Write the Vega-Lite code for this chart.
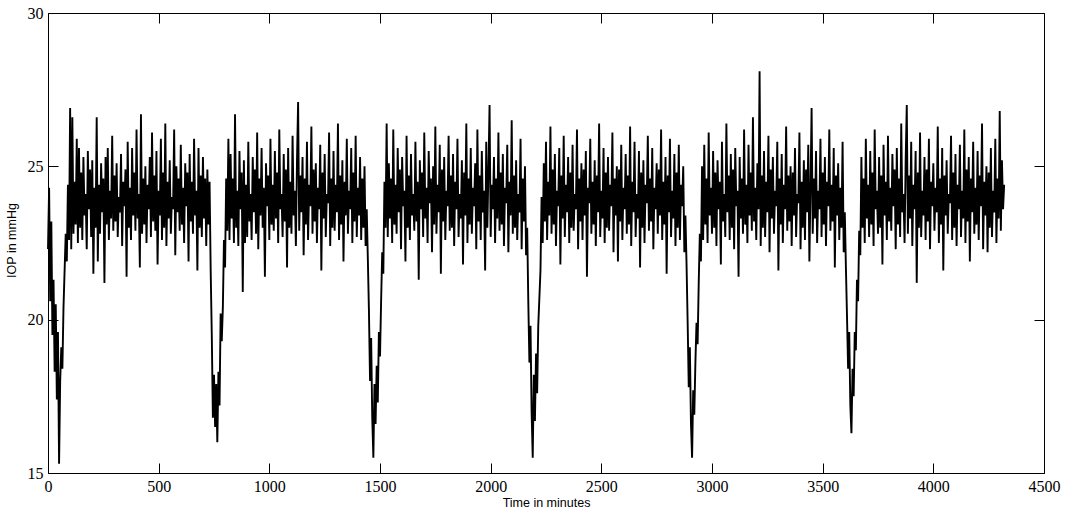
{
"$schema":"https://vega.github.io/schema/vega-lite/v6.json",
"width":996,"height":460,"autosize":"none",
"padding":{"left":48,"top":13,"right":21,"bottom":44},
"background":"white",
"data":{"values":[
{"t":0,"v":22.3},{"t":5,"v":24.3},{"t":10,"v":20.6},{"t":15,"v":23.2},{"t":20,"v":19.5},{"t":25,"v":21.3},{"t":30,"v":18.3},{"t":35,"v":20.5},{"t":40,"v":17.4},{"t":45,"v":19.6},
{"t":50,"v":15.3},{"t":55,"v":18.0},{"t":60,"v":19.1},{"t":65,"v":18.4},{"t":70,"v":20.4},{"t":75,"v":21.6},{"t":80,"v":22.8},{"t":85,"v":21.9},{"t":90,"v":24.4},{"t":95,"v":22.6},
{"t":100,"v":26.9},{"t":105,"v":22.3},{"t":110,"v":26.6},{"t":115,"v":22.8},{"t":120,"v":24.5},{"t":125,"v":23.1},{"t":130,"v":25.9},{"t":135,"v":22.5},{"t":140,"v":25.6},{"t":145,"v":23.0},
{"t":150,"v":24.8},{"t":155,"v":22.6},{"t":160,"v":25.3},{"t":165,"v":23.4},{"t":170,"v":24.1},{"t":175,"v":22.3},{"t":180,"v":25.5},{"t":185,"v":23.6},{"t":190,"v":24.9},{"t":195,"v":22.7},
{"t":200,"v":25.2},{"t":205,"v":21.5},{"t":210,"v":24.3},{"t":215,"v":23.0},{"t":220,"v":26.6},{"t":225,"v":21.9},{"t":230,"v":24.4},{"t":235,"v":22.8},{"t":240,"v":25.1},{"t":245,"v":23.5},
{"t":250,"v":24.6},{"t":255,"v":21.2},{"t":260,"v":25.3},{"t":265,"v":23.1},{"t":270,"v":25.6},{"t":275,"v":22.6},{"t":280,"v":24.2},{"t":285,"v":23.3},{"t":290,"v":26.0},{"t":295,"v":22.9},
{"t":300,"v":24.7},{"t":305,"v":23.2},{"t":310,"v":25.1},{"t":315,"v":22.7},{"t":320,"v":24.0},{"t":325,"v":23.5},{"t":330,"v":25.4},{"t":335,"v":22.4},{"t":340,"v":24.5},{"t":345,"v":23.7},
{"t":350,"v":24.9},{"t":355,"v":21.4},{"t":360,"v":25.8},{"t":365,"v":23.0},{"t":370,"v":24.3},{"t":375,"v":22.6},{"t":380,"v":25.6},{"t":385,"v":23.4},{"t":390,"v":24.8},{"t":395,"v":22.9},
{"t":400,"v":26.2},{"t":405,"v":23.3},{"t":410,"v":24.1},{"t":415,"v":21.7},{"t":420,"v":26.7},{"t":425,"v":22.8},{"t":430,"v":24.6},{"t":435,"v":23.1},{"t":440,"v":25.0},{"t":445,"v":22.5},
{"t":450,"v":24.4},{"t":455,"v":23.6},{"t":460,"v":25.3},{"t":465,"v":22.7},{"t":470,"v":26.1},{"t":475,"v":23.2},{"t":480,"v":24.7},{"t":485,"v":22.9},{"t":490,"v":25.5},{"t":495,"v":21.8},
{"t":500,"v":24.2},{"t":505,"v":23.4},{"t":510,"v":25.9},{"t":515,"v":22.6},{"t":520,"v":24.8},{"t":525,"v":23.0},{"t":530,"v":26.4},{"t":535,"v":22.4},{"t":540,"v":24.5},{"t":545,"v":23.3},
{"t":550,"v":25.2},{"t":555,"v":22.8},{"t":560,"v":24.0},{"t":565,"v":23.6},{"t":570,"v":26.2},{"t":575,"v":22.1},{"t":580,"v":25.0},{"t":585,"v":23.5},{"t":590,"v":24.6},{"t":595,"v":22.9},
{"t":600,"v":25.7},{"t":605,"v":23.1},{"t":610,"v":24.3},{"t":615,"v":22.5},{"t":620,"v":25.1},{"t":625,"v":23.7},{"t":630,"v":24.8},{"t":635,"v":21.9},{"t":640,"v":25.4},{"t":645,"v":23.2},
{"t":650,"v":24.5},{"t":655,"v":22.8},{"t":660,"v":25.9},{"t":665,"v":23.4},{"t":670,"v":24.2},{"t":675,"v":21.6},{"t":680,"v":25.6},{"t":685,"v":23.0},{"t":690,"v":24.7},{"t":695,"v":22.7},
{"t":700,"v":25.3},{"t":705,"v":23.3},{"t":710,"v":24.6},{"t":715,"v":22.4},{"t":720,"v":24.9},{"t":725,"v":23.1},{"t":730,"v":24.5},{"t":735,"v":21.6},{"t":740,"v":19.5},{"t":745,"v":16.8},
{"t":750,"v":18.2},{"t":755,"v":16.5},{"t":760,"v":17.9},{"t":765,"v":16.0},{"t":770,"v":18.3},{"t":775,"v":17.2},{"t":780,"v":20.2},{"t":785,"v":19.3},{"t":790,"v":20.4},{"t":795,"v":22.6},
{"t":800,"v":21.7},{"t":805,"v":24.6},{"t":810,"v":22.9},{"t":815,"v":25.9},{"t":820,"v":22.6},{"t":825,"v":25.4},{"t":830,"v":23.3},{"t":835,"v":24.6},{"t":840,"v":22.5},{"t":845,"v":26.7},
{"t":850,"v":23.0},{"t":855,"v":24.2},{"t":860,"v":22.4},{"t":865,"v":25.5},{"t":870,"v":23.6},{"t":875,"v":24.8},{"t":880,"v":20.9},{"t":885,"v":25.2},{"t":890,"v":22.5},{"t":895,"v":24.4},
{"t":900,"v":22.7},{"t":905,"v":25.8},{"t":910,"v":23.2},{"t":915,"v":24.1},{"t":920,"v":22.6},{"t":925,"v":25.3},{"t":930,"v":23.5},{"t":935,"v":24.9},{"t":940,"v":22.8},{"t":945,"v":26.1},
{"t":950,"v":22.3},{"t":955,"v":24.6},{"t":960,"v":23.4},{"t":965,"v":25.6},{"t":970,"v":23.0},{"t":975,"v":24.3},{"t":980,"v":21.4},{"t":985,"v":25.1},{"t":990,"v":23.7},{"t":995,"v":24.7},
{"t":1000,"v":22.6},{"t":1005,"v":25.9},{"t":1010,"v":23.1},{"t":1015,"v":24.4},{"t":1020,"v":22.9},{"t":1025,"v":25.5},{"t":1030,"v":23.3},{"t":1035,"v":24.8},{"t":1040,"v":22.5},{"t":1045,"v":26.2},
{"t":1050,"v":23.6},{"t":1055,"v":24.1},{"t":1060,"v":22.7},{"t":1065,"v":25.4},{"t":1070,"v":23.2},{"t":1075,"v":24.9},{"t":1080,"v":21.7},{"t":1085,"v":25.6},{"t":1090,"v":23.0},{"t":1095,"v":24.5},
{"t":1100,"v":22.8},{"t":1105,"v":26.0},{"t":1110,"v":23.4},{"t":1115,"v":24.2},{"t":1120,"v":22.4},{"t":1125,"v":25.2},{"t":1130,"v":27.1},{"t":1135,"v":22.9},{"t":1140,"v":24.7},{"t":1145,"v":23.5},
{"t":1150,"v":25.3},{"t":1155,"v":22.1},{"t":1160,"v":24.6},{"t":1165,"v":23.1},{"t":1170,"v":25.8},{"t":1175,"v":22.6},{"t":1180,"v":24.4},{"t":1185,"v":23.7},{"t":1190,"v":26.3},{"t":1195,"v":22.8},
{"t":1200,"v":24.9},{"t":1205,"v":23.2},{"t":1210,"v":25.1},{"t":1215,"v":22.5},{"t":1220,"v":24.3},{"t":1225,"v":23.6},{"t":1230,"v":25.7},{"t":1235,"v":21.6},{"t":1240,"v":24.8},{"t":1245,"v":23.3},
{"t":1250,"v":25.4},{"t":1255,"v":22.7},{"t":1260,"v":24.1},{"t":1265,"v":23.8},{"t":1270,"v":26.1},{"t":1275,"v":22.4},{"t":1280,"v":24.6},{"t":1285,"v":23.0},{"t":1290,"v":25.5},{"t":1295,"v":22.9},
{"t":1300,"v":24.4},{"t":1305,"v":23.5},{"t":1310,"v":26.4},{"t":1315,"v":22.6},{"t":1320,"v":24.7},{"t":1325,"v":23.1},{"t":1330,"v":25.2},{"t":1335,"v":21.9},{"t":1340,"v":24.5},{"t":1345,"v":23.4},
{"t":1350,"v":25.9},{"t":1355,"v":22.8},{"t":1360,"v":24.2},{"t":1365,"v":23.6},{"t":1370,"v":25.6},{"t":1375,"v":22.5},{"t":1380,"v":24.8},{"t":1385,"v":23.2},{"t":1390,"v":26.0},{"t":1395,"v":22.7},
{"t":1400,"v":24.3},{"t":1405,"v":23.4},{"t":1410,"v":25.3},{"t":1415,"v":22.6},{"t":1420,"v":24.6},{"t":1425,"v":23.0},{"t":1430,"v":25.0},{"t":1435,"v":22.4},{"t":1440,"v":23.6},{"t":1445,"v":22.0},
{"t":1450,"v":20.3},{"t":1455,"v":18.0},{"t":1460,"v":19.4},{"t":1465,"v":16.8},{"t":1470,"v":15.5},{"t":1475,"v":17.9},{"t":1480,"v":16.6},{"t":1485,"v":18.5},{"t":1490,"v":17.3},{"t":1495,"v":19.6},
{"t":1500,"v":18.8},{"t":1505,"v":20.6},{"t":1510,"v":22.2},{"t":1515,"v":21.5},{"t":1520,"v":24.5},{"t":1525,"v":23.0},{"t":1530,"v":26.4},{"t":1535,"v":22.7},{"t":1540,"v":25.1},{"t":1545,"v":23.3},
{"t":1550,"v":24.6},{"t":1555,"v":22.5},{"t":1560,"v":26.2},{"t":1565,"v":23.1},{"t":1570,"v":24.4},{"t":1575,"v":22.8},{"t":1580,"v":25.6},{"t":1585,"v":23.5},{"t":1590,"v":24.9},{"t":1595,"v":22.3},
{"t":1600,"v":25.3},{"t":1605,"v":23.7},{"t":1610,"v":24.2},{"t":1615,"v":21.9},{"t":1620,"v":26.0},{"t":1625,"v":23.0},{"t":1630,"v":24.7},{"t":1635,"v":22.6},{"t":1640,"v":25.4},{"t":1645,"v":23.4},
{"t":1650,"v":24.1},{"t":1655,"v":22.9},{"t":1660,"v":25.8},{"t":1665,"v":23.2},{"t":1670,"v":24.5},{"t":1675,"v":21.3},{"t":1680,"v":25.2},{"t":1685,"v":23.6},{"t":1690,"v":24.8},{"t":1695,"v":22.7},
{"t":1700,"v":26.1},{"t":1705,"v":23.3},{"t":1710,"v":24.3},{"t":1715,"v":22.5},{"t":1720,"v":25.5},{"t":1725,"v":23.8},{"t":1730,"v":24.6},{"t":1735,"v":22.2},{"t":1740,"v":25.0},{"t":1745,"v":23.1},
{"t":1750,"v":26.3},{"t":1755,"v":22.8},{"t":1760,"v":24.4},{"t":1765,"v":23.5},{"t":1770,"v":25.7},{"t":1775,"v":21.5},{"t":1780,"v":24.9},{"t":1785,"v":23.2},{"t":1790,"v":25.3},{"t":1795,"v":22.6},
{"t":1800,"v":24.2},{"t":1805,"v":23.7},{"t":1810,"v":26.0},{"t":1815,"v":22.9},{"t":1820,"v":24.7},{"t":1825,"v":23.0},{"t":1830,"v":25.4},{"t":1835,"v":22.4},{"t":1840,"v":24.5},{"t":1845,"v":23.6},
{"t":1850,"v":25.9},{"t":1855,"v":22.7},{"t":1860,"v":24.1},{"t":1865,"v":23.3},{"t":1870,"v":25.2},{"t":1875,"v":21.8},{"t":1880,"v":24.8},{"t":1885,"v":23.4},{"t":1890,"v":26.4},{"t":1895,"v":22.5},
{"t":1900,"v":24.6},{"t":1905,"v":23.1},{"t":1910,"v":25.6},{"t":1915,"v":22.8},{"t":1920,"v":24.3},{"t":1925,"v":23.7},{"t":1930,"v":25.1},{"t":1935,"v":22.3},{"t":1940,"v":26.2},{"t":1945,"v":23.2},
{"t":1950,"v":24.7},{"t":1955,"v":22.6},{"t":1960,"v":25.5},{"t":1965,"v":23.5},{"t":1970,"v":24.2},{"t":1975,"v":21.6},{"t":1980,"v":25.8},{"t":1985,"v":23.0},{"t":1990,"v":24.9},{"t":1995,"v":27.0},
{"t":2000,"v":22.7},{"t":2005,"v":24.4},{"t":2010,"v":23.6},{"t":2015,"v":25.3},{"t":2020,"v":22.5},{"t":2025,"v":24.6},{"t":2030,"v":23.3},{"t":2035,"v":26.1},{"t":2040,"v":22.9},{"t":2045,"v":24.8},
{"t":2050,"v":23.1},{"t":2055,"v":25.4},{"t":2060,"v":22.4},{"t":2065,"v":24.3},{"t":2070,"v":23.8},{"t":2075,"v":25.7},{"t":2080,"v":22.2},{"t":2085,"v":24.5},{"t":2090,"v":23.4},{"t":2095,"v":26.5},
{"t":2100,"v":22.8},{"t":2105,"v":24.7},{"t":2110,"v":23.0},{"t":2115,"v":25.2},{"t":2120,"v":22.6},{"t":2125,"v":24.1},{"t":2130,"v":23.5},{"t":2135,"v":25.9},{"t":2140,"v":22.3},{"t":2145,"v":24.6},
{"t":2150,"v":23.2},{"t":2155,"v":25.0},{"t":2160,"v":22.1},{"t":2165,"v":23.0},{"t":2170,"v":20.6},{"t":2175,"v":18.6},{"t":2180,"v":19.8},{"t":2185,"v":17.0},{"t":2190,"v":15.5},{"t":2195,"v":18.2},
{"t":2200,"v":16.7},{"t":2205,"v":18.9},{"t":2210,"v":17.6},{"t":2215,"v":19.8},{"t":2220,"v":20.7},{"t":2225,"v":21.6},{"t":2230,"v":24.0},{"t":2235,"v":22.5},{"t":2240,"v":25.1},{"t":2245,"v":23.2},
{"t":2250,"v":25.8},{"t":2255,"v":22.6},{"t":2260,"v":24.5},{"t":2265,"v":23.4},{"t":2270,"v":26.3},{"t":2275,"v":22.8},{"t":2280,"v":24.9},{"t":2285,"v":23.1},{"t":2290,"v":25.4},{"t":2295,"v":22.4},
{"t":2300,"v":24.2},{"t":2305,"v":23.7},{"t":2310,"v":25.6},{"t":2315,"v":21.8},{"t":2320,"v":24.7},{"t":2325,"v":23.3},{"t":2330,"v":26.0},{"t":2335,"v":22.7},{"t":2340,"v":24.4},{"t":2345,"v":23.5},
{"t":2350,"v":25.3},{"t":2355,"v":22.5},{"t":2360,"v":24.8},{"t":2365,"v":23.0},{"t":2370,"v":25.7},{"t":2375,"v":22.9},{"t":2380,"v":24.1},{"t":2385,"v":23.6},{"t":2390,"v":26.2},{"t":2395,"v":22.3},
{"t":2400,"v":24.6},{"t":2405,"v":23.2},{"t":2410,"v":25.1},{"t":2415,"v":22.6},{"t":2420,"v":24.9},{"t":2425,"v":23.4},{"t":2430,"v":25.5},{"t":2435,"v":21.4},{"t":2440,"v":24.3},{"t":2445,"v":23.8},
{"t":2450,"v":25.9},{"t":2455,"v":22.8},{"t":2460,"v":24.5},{"t":2465,"v":23.1},{"t":2470,"v":25.2},{"t":2475,"v":22.4},{"t":2480,"v":24.7},{"t":2485,"v":23.5},{"t":2490,"v":26.4},{"t":2495,"v":22.7},
{"t":2500,"v":24.2},{"t":2505,"v":23.3},{"t":2510,"v":25.6},{"t":2515,"v":22.5},{"t":2520,"v":24.8},{"t":2525,"v":23.0},{"t":2530,"v":25.3},{"t":2535,"v":22.9},{"t":2540,"v":24.4},{"t":2545,"v":23.7},
{"t":2550,"v":26.1},{"t":2555,"v":22.2},{"t":2560,"v":24.6},{"t":2565,"v":23.4},{"t":2570,"v":25.0},{"t":2575,"v":21.9},{"t":2580,"v":24.9},{"t":2585,"v":23.2},{"t":2590,"v":25.7},{"t":2595,"v":22.6},
{"t":2600,"v":24.3},{"t":2605,"v":23.6},{"t":2610,"v":25.4},{"t":2615,"v":22.8},{"t":2620,"v":24.7},{"t":2625,"v":23.1},{"t":2630,"v":26.3},{"t":2635,"v":22.4},{"t":2640,"v":24.5},{"t":2645,"v":23.5},
{"t":2650,"v":25.8},{"t":2655,"v":22.7},{"t":2660,"v":24.1},{"t":2665,"v":23.3},{"t":2670,"v":25.5},{"t":2675,"v":21.7},{"t":2680,"v":24.8},{"t":2685,"v":23.0},{"t":2690,"v":25.2},{"t":2695,"v":22.5},
{"t":2700,"v":24.4},{"t":2705,"v":23.8},{"t":2710,"v":26.0},{"t":2715,"v":22.9},{"t":2720,"v":24.6},{"t":2725,"v":23.2},{"t":2730,"v":25.6},{"t":2735,"v":22.3},{"t":2740,"v":24.3},{"t":2745,"v":23.6},
{"t":2750,"v":25.1},{"t":2755,"v":22.8},{"t":2760,"v":24.9},{"t":2765,"v":23.4},{"t":2770,"v":26.2},{"t":2775,"v":22.6},{"t":2780,"v":24.5},{"t":2785,"v":23.1},{"t":2790,"v":25.3},{"t":2795,"v":21.5},
{"t":2800,"v":24.7},{"t":2805,"v":23.5},{"t":2810,"v":25.9},{"t":2815,"v":22.7},{"t":2820,"v":24.2},{"t":2825,"v":23.3},{"t":2830,"v":25.4},{"t":2835,"v":22.4},{"t":2840,"v":24.8},{"t":2845,"v":23.0},
{"t":2850,"v":25.7},{"t":2855,"v":22.6},{"t":2860,"v":24.4},{"t":2865,"v":23.7},{"t":2870,"v":25.0},{"t":2875,"v":22.2},{"t":2880,"v":23.4},{"t":2885,"v":21.8},{"t":2890,"v":19.9},{"t":2895,"v":17.8},
{"t":2900,"v":19.1},{"t":2905,"v":16.6},{"t":2910,"v":15.5},{"t":2915,"v":17.7},{"t":2920,"v":16.9},{"t":2925,"v":18.6},{"t":2930,"v":19.9},{"t":2935,"v":19.2},{"t":2940,"v":21.2},{"t":2945,"v":22.8},
{"t":2950,"v":21.9},{"t":2955,"v":25.0},{"t":2960,"v":22.6},{"t":2965,"v":25.7},{"t":2970,"v":23.1},{"t":2975,"v":24.6},{"t":2980,"v":22.5},{"t":2985,"v":26.1},{"t":2990,"v":23.4},{"t":2995,"v":24.3},
{"t":3000,"v":22.8},{"t":3005,"v":25.5},{"t":3010,"v":23.0},{"t":3015,"v":24.8},{"t":3020,"v":22.4},{"t":3025,"v":25.2},{"t":3030,"v":23.6},{"t":3035,"v":24.5},{"t":3040,"v":21.8},{"t":3045,"v":25.8},
{"t":3050,"v":23.2},{"t":3055,"v":24.1},{"t":3060,"v":22.7},{"t":3065,"v":26.4},{"t":3070,"v":23.5},{"t":3075,"v":24.7},{"t":3080,"v":22.6},{"t":3085,"v":25.4},{"t":3090,"v":23.0},{"t":3095,"v":24.9},
{"t":3100,"v":22.3},{"t":3105,"v":25.6},{"t":3110,"v":23.7},{"t":3115,"v":24.2},{"t":3120,"v":21.4},{"t":3125,"v":25.3},{"t":3130,"v":23.3},{"t":3135,"v":24.6},{"t":3140,"v":22.8},{"t":3145,"v":26.2},
{"t":3150,"v":23.1},{"t":3155,"v":24.4},{"t":3160,"v":22.5},{"t":3165,"v":25.7},{"t":3170,"v":23.4},{"t":3175,"v":24.8},{"t":3180,"v":22.9},{"t":3185,"v":26.6},{"t":3190,"v":23.2},{"t":3195,"v":24.3},
{"t":3200,"v":22.6},{"t":3205,"v":25.1},{"t":3210,"v":23.6},{"t":3215,"v":28.1},{"t":3220,"v":22.4},{"t":3225,"v":24.7},{"t":3230,"v":23.0},{"t":3235,"v":25.5},{"t":3240,"v":22.7},{"t":3245,"v":24.5},
{"t":3250,"v":23.5},{"t":3255,"v":26.0},{"t":3260,"v":22.2},{"t":3265,"v":24.9},{"t":3270,"v":23.3},{"t":3275,"v":25.3},{"t":3280,"v":22.8},{"t":3285,"v":24.2},{"t":3290,"v":23.7},{"t":3295,"v":25.8},
{"t":3300,"v":21.6},{"t":3305,"v":24.6},{"t":3310,"v":23.1},{"t":3315,"v":25.4},{"t":3320,"v":22.5},{"t":3325,"v":24.4},{"t":3330,"v":23.6},{"t":3335,"v":26.3},{"t":3340,"v":22.9},{"t":3345,"v":24.7},
{"t":3350,"v":23.2},{"t":3355,"v":25.0},{"t":3360,"v":22.4},{"t":3365,"v":24.8},{"t":3370,"v":23.4},{"t":3375,"v":25.6},{"t":3380,"v":22.7},{"t":3385,"v":24.1},{"t":3390,"v":23.8},{"t":3395,"v":26.1},
{"t":3400,"v":22.3},{"t":3405,"v":24.5},{"t":3410,"v":23.0},{"t":3415,"v":25.2},{"t":3420,"v":22.6},{"t":3425,"v":24.9},{"t":3430,"v":23.5},{"t":3435,"v":25.7},{"t":3440,"v":21.9},{"t":3445,"v":24.3},
{"t":3450,"v":26.9},{"t":3455,"v":22.8},{"t":3460,"v":24.6},{"t":3465,"v":23.3},{"t":3470,"v":25.5},{"t":3475,"v":22.5},{"t":3480,"v":24.2},{"t":3485,"v":23.6},{"t":3490,"v":25.9},{"t":3495,"v":22.7},
{"t":3500,"v":24.8},{"t":3505,"v":23.1},{"t":3510,"v":25.3},{"t":3515,"v":22.4},{"t":3520,"v":24.5},{"t":3525,"v":23.7},{"t":3530,"v":26.2},{"t":3535,"v":22.9},{"t":3540,"v":24.4},{"t":3545,"v":23.2},
{"t":3550,"v":25.6},{"t":3555,"v":21.7},{"t":3560,"v":24.7},{"t":3565,"v":23.4},{"t":3570,"v":25.1},{"t":3575,"v":22.6},{"t":3580,"v":24.3},{"t":3585,"v":23.0},{"t":3590,"v":25.8},{"t":3595,"v":22.2},
{"t":3600,"v":23.5},{"t":3605,"v":21.7},{"t":3610,"v":20.1},{"t":3615,"v":18.4},{"t":3620,"v":19.6},{"t":3625,"v":17.2},{"t":3630,"v":16.3},{"t":3635,"v":18.4},{"t":3640,"v":17.5},{"t":3645,"v":19.6},
{"t":3650,"v":19.0},{"t":3655,"v":21.3},{"t":3660,"v":20.6},{"t":3665,"v":22.9},{"t":3670,"v":22.1},{"t":3675,"v":25.3},{"t":3680,"v":23.0},{"t":3685,"v":24.6},{"t":3690,"v":22.5},{"t":3695,"v":25.9},
{"t":3700,"v":23.3},{"t":3705,"v":24.4},{"t":3710,"v":22.7},{"t":3715,"v":25.5},{"t":3720,"v":23.1},{"t":3725,"v":24.8},{"t":3730,"v":22.4},{"t":3735,"v":26.2},{"t":3740,"v":23.6},{"t":3745,"v":24.2},
{"t":3750,"v":22.8},{"t":3755,"v":25.3},{"t":3760,"v":23.0},{"t":3765,"v":24.7},{"t":3770,"v":21.8},{"t":3775,"v":25.7},{"t":3780,"v":23.4},{"t":3785,"v":24.5},{"t":3790,"v":22.6},{"t":3795,"v":26.0},
{"t":3800,"v":23.2},{"t":3805,"v":24.3},{"t":3810,"v":22.9},{"t":3815,"v":25.4},{"t":3820,"v":23.7},{"t":3825,"v":24.9},{"t":3830,"v":22.3},{"t":3835,"v":25.6},{"t":3840,"v":23.1},{"t":3845,"v":24.6},
{"t":3850,"v":22.7},{"t":3855,"v":26.4},{"t":3860,"v":23.5},{"t":3865,"v":24.1},{"t":3870,"v":22.5},{"t":3875,"v":25.2},{"t":3880,"v":27.0},{"t":3885,"v":22.8},{"t":3890,"v":24.7},{"t":3895,"v":23.3},
{"t":3900,"v":25.8},{"t":3905,"v":22.4},{"t":3910,"v":24.4},{"t":3915,"v":23.6},{"t":3920,"v":25.5},{"t":3925,"v":21.2},{"t":3930,"v":24.8},{"t":3935,"v":23.0},{"t":3940,"v":26.1},{"t":3945,"v":22.7},
{"t":3950,"v":24.2},{"t":3955,"v":23.4},{"t":3960,"v":25.3},{"t":3965,"v":22.6},{"t":3970,"v":24.9},{"t":3975,"v":23.2},{"t":3980,"v":25.9},{"t":3985,"v":22.3},{"t":3990,"v":24.5},{"t":3995,"v":23.7},
{"t":4000,"v":25.1},{"t":4005,"v":22.9},{"t":4010,"v":24.3},{"t":4015,"v":23.5},{"t":4020,"v":26.3},{"t":4025,"v":22.5},{"t":4030,"v":24.6},{"t":4035,"v":23.1},{"t":4040,"v":25.6},{"t":4045,"v":21.6},
{"t":4050,"v":24.7},{"t":4055,"v":23.4},{"t":4060,"v":25.2},{"t":4065,"v":22.8},{"t":4070,"v":24.1},{"t":4075,"v":23.8},{"t":4080,"v":26.0},{"t":4085,"v":22.6},{"t":4090,"v":24.8},{"t":4095,"v":23.0},
{"t":4100,"v":25.4},{"t":4105,"v":22.4},{"t":4110,"v":24.4},{"t":4115,"v":23.6},{"t":4120,"v":25.7},{"t":4125,"v":22.7},{"t":4130,"v":24.2},{"t":4135,"v":23.3},{"t":4140,"v":26.2},{"t":4145,"v":22.5},
{"t":4150,"v":24.9},{"t":4155,"v":23.2},{"t":4160,"v":25.3},{"t":4165,"v":21.9},{"t":4170,"v":24.6},{"t":4175,"v":23.5},{"t":4180,"v":25.8},{"t":4185,"v":22.8},{"t":4190,"v":24.3},{"t":4195,"v":23.1},
{"t":4200,"v":25.5},{"t":4205,"v":22.6},{"t":4210,"v":24.7},{"t":4215,"v":23.7},{"t":4220,"v":26.4},{"t":4225,"v":22.3},{"t":4230,"v":24.5},{"t":4235,"v":23.4},{"t":4240,"v":25.0},{"t":4245,"v":22.2},
{"t":4250,"v":24.8},{"t":4255,"v":23.0},{"t":4260,"v":25.6},{"t":4265,"v":22.7},{"t":4270,"v":24.2},{"t":4275,"v":23.5},{"t":4280,"v":25.9},{"t":4285,"v":22.5},{"t":4290,"v":24.6},{"t":4295,"v":23.3},
{"t":4300,"v":26.8},{"t":4305,"v":22.9},{"t":4310,"v":25.2},{"t":4315,"v":23.6},{"t":4320,"v":24.4}
]},
"layer":[
{"mark":{"type":"line","color":"black","strokeWidth":1.9,"strokeJoin":"bevel","interpolate":"linear"},
 "encoding":{
  "x":{"field":"t","type":"quantitative","scale":{"domain":[0,4500],"nice":false,"zero":false},
   "axis":{"orient":"bottom","values":[0,500,1000,1500,2000,2500,3000,3500,4000,4500],"tickSize":-10,"labelPadding":15,"labelFlush":false,"labelOverlap":false,"labelFont":"Liberation Serif","labelFontSize":16,"format":"d","title":"Time in minutes","titleFont":"Liberation Sans","titleFontSize":12.5,"titleFontWeight":"normal","titleBaseline":"alphabetic","titleY":33}},
  "y":{"field":"v","type":"quantitative","scale":{"domain":[15,30],"nice":false,"zero":false},
   "axis":{"orient":"left","values":[15,20,25,30],"tickSize":-10,"labelPadding":15,"labelFlush":false,"labelOverlap":false,"labelFont":"Liberation Serif","labelFontSize":16,"labelBaseline":"middle","format":"d","title":"IOP in mmHg","titleFont":"Liberation Sans","titleFontSize":12.5,"titleFontWeight":"normal","titleBaseline":"alphabetic","titleX":-33,"titleY":227,"titleAngle":270}}
 }},
{"mark":{"type":"line","color":"black","strokeOpacity":0},
 "encoding":{
  "x":{"field":"t","type":"quantitative","axis":{"orient":"top","values":[0,500,1000,1500,2000,2500,3000,3500,4000,4500],"tickSize":-10,"labels":false,"title":null}},
  "y":{"field":"v","type":"quantitative","axis":{"orient":"right","values":[15,20,25,30],"tickSize":-10,"labels":false,"title":null}}
 }}
],
"resolve":{"axis":{"x":"independent","y":"independent"}},
"config":{"view":{"stroke":"black","strokeWidth":1},
 "axis":{"domain":false,"grid":false,"tickColor":"black","tickWidth":1,"labelColor":"black","titleColor":"black"}}
}
